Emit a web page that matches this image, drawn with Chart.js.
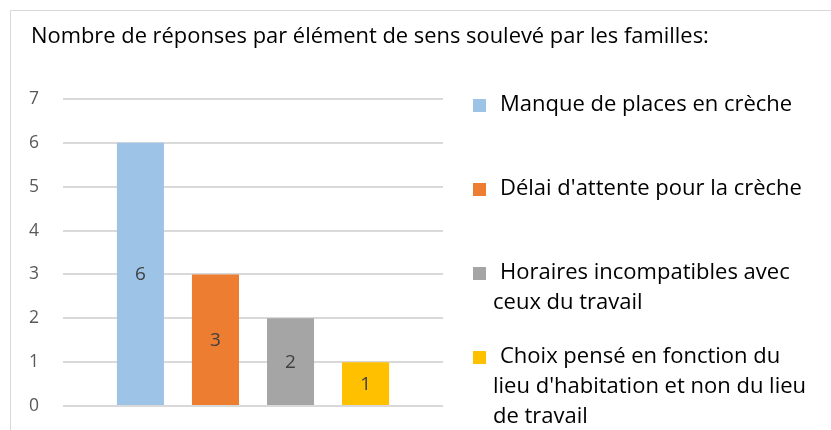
<!DOCTYPE html>
<html>
<head>
<meta charset="utf-8">
<script src="https://cdn.jsdelivr.net/npm/chart.js@4.4.1/dist/chart.umd.min.js"></script>
<style>
  html, body { margin: 0; padding: 0; background: #fff; overflow: hidden; }
  #wrap { position: relative; width: 831px; height: 430px; }
  #cadre { position: absolute; left: 10px; top: 10px; width: 900px; height: 500px; border: 1px solid #d9d9d9; box-sizing: border-box; }
  #grafica { position: absolute; left: 0; top: 0; }
</style>
</head>
<body>
<div id="wrap">
  <div id="cadre"></div>
  <canvas id="grafica" width="831" height="430"></canvas>
</div>
<script>
const titre = 'Nombre de réponses par élément de sens soulevé par les familles:';
const series = ['Manque de places en crèche', "Délai d'attente pour la crèche", 'Horaires incompatibles avec ceux du travail', "Choix pensé en fonction du lieu d'habitation et non du lieu de travail"];
const legendLines = [
  ['Manque de places en crèche'],
  ["Délai d'attente pour la crèche"],
  ['Horaires incompatibles avec', 'ceux du travail'],
  ['Choix pensé en fonction du', "lieu d'habitation et non du lieu", 'de travail']
];
const valeurs = [6, 3, 2, 1];
const couleurs = ['#9DC3E6', '#ED7D31', '#A5A5A5', '#FFC000'];
const yTicks = [0, 1, 2, 3, 4, 5, 6, 7];

const FONT = '"Open Sans", "Noto Sans", sans-serif';

document.addEventListener('DOMContentLoaded', function () {
  const canvas = document.getElementById('grafica');
  if (!canvas || typeof Chart === 'undefined') {
    console.warn('Chart.js ou #grafica manquant');
    return;
  }

  // titre + légende + étiquettes de valeurs
  const decor = {
    id: 'decor',
    afterDatasetsDraw(chart) {
      const ctx = chart.ctx;
      ctx.save();
      // étiquettes au centre des barres
      ctx.font = '19px ' + FONT;
      ctx.fillStyle = '#404040';
      ctx.textAlign = 'center';
      ctx.textBaseline = 'middle';
      chart.data.datasets.forEach((ds, i) => {
        const meta = chart.getDatasetMeta(i);
        meta.data.forEach((bar, j) => {
          const p = bar.getProps(['x', 'y', 'base'], true);
          ctx.fillText(String(ds.data[j]), p.x, (p.y + p.base) / 2 + 1);
        });
      });

      // titre
      ctx.textAlign = 'left';
      ctx.textBaseline = 'alphabetic';
      ctx.fillStyle = '#000';
      ctx.font = '21.9px ' + FONT;
      ctx.fillText(titre, 31, 43);

      // légende
      ctx.font = '22px ' + FONT;
      ctx.textBaseline = 'middle';
      chart.data.datasets.forEach((ds, i) => {
        const yc = 105 + i * 84;
        ctx.fillStyle = ds.backgroundColor;
        ctx.fillRect(473, yc - 6, 13, 13);
        ctx.fillStyle = '#000';
        legendLines[i].forEach((ln, k) => {
          ctx.fillText(ln, k === 0 ? 500 : 493, yc + k * 30);
        });
      });
      ctx.restore();
    }
  };

  new Chart(canvas.getContext('2d'), {
    type: 'bar',
    data: {
      labels: [''],
      datasets: series.map((s, i) => ({
        label: s,
        data: [valeurs[i]],
        backgroundColor: couleurs[i],
        categoryPercentage: 0.79,
        barPercentage: 0.627
      }))
    },
    options: {
      responsive: false,
      animation: false,
      layout: { padding: { top: 99, right: 388, bottom: 24, left: 29 } },
      plugins: {
        legend: { display: false },
        tooltip: { enabled: false },
        title: { display: false }
      },
      scales: {
        x: { display: false },
        y: {
          min: 0,
          max: 7,
          afterFit: s => { s.width = 34; },
          afterBuildTicks: s => { s.ticks = yTicks.map(v => ({ value: v })); },
          border: { display: false },
          grid: { color: '#d9d9d9', lineWidth: 2, drawTicks: false },
          ticks: { padding: 0, crossAlign: 'far', color: '#595959', font: { family: FONT, size: 17.5 } }
        }
      }
    },
    plugins: [decor]
  });
});
</script>
</body>
</html>
